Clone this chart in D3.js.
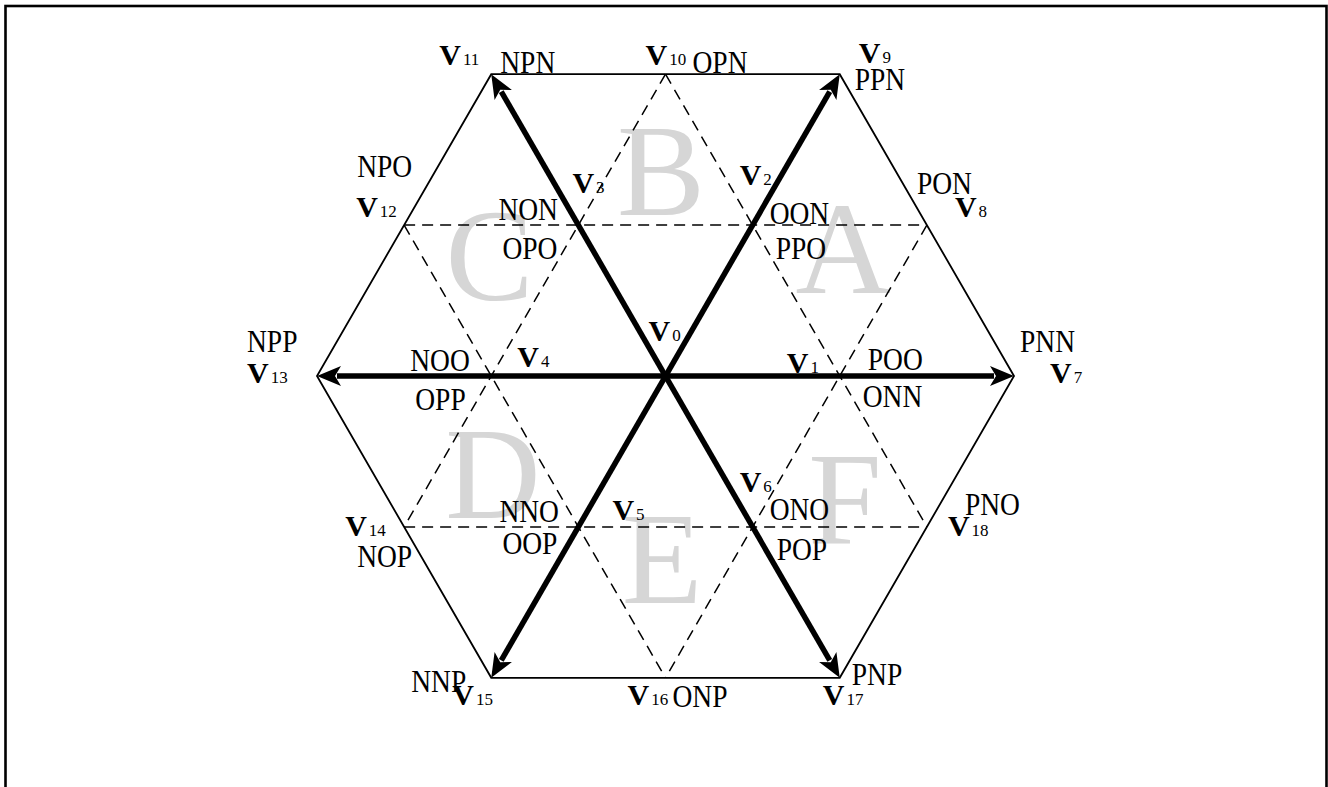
<!DOCTYPE html>
<html>
<head>
<meta charset="utf-8">
<script src="https://cdn.jsdelivr.net/npm/d3@7"></script>
<style>
  html, body { margin: 0; padding: 0; background: #fff; }
  svg { display: block; }
  text { font-family: "Liberation Serif", "DejaVu Serif", serif; }
</style>
</head>
<body>
<svg id="chart" width="1328" height="787"></svg>
<script>
// ---------- DATA ----------
const S3 = Math.sqrt(3) / 2;
// vector names and alpha-beta coordinates (outer vertex magnitude = 2)
const vectorIds = [0,1,2,3,4,5,6,7,8,9,10,11,12,13,14,15,16,17,18];
const vectorAlpha = [0, 1, 0.5, -0.5, -1, -0.5, 0.5, 2, 1.5, 1, 0, -1, -1.5, -2, -1.5, -1, 0, 1, 1.5];
const vectorBeta  = [0, 0, S3, S3, 0, -S3, -S3, 0, S3, 2*S3, 2*S3, 2*S3, S3, 0, -S3, -2*S3, -2*S3, -2*S3, -S3];
// switching states for each vector (upper label, lower label)
const switchStates = [
  [], ["POO","ONN"], ["OON","PPO"], ["NON","OPO"], ["NOO","OPP"], ["NNO","OOP"], ["ONO","POP"],
  ["PNN"], ["PON"], ["PPN"], ["OPN"], ["NPN"], ["NPO"], ["NPP"], ["NOP"], ["NNP"], ["ONP"], ["PNP"], ["PNO"]
];
const outerHexagon = [7, 9, 11, 13, 15, 17];          // outer solid hexagon vertices
const mainVectors = [7, 9, 11, 13, 15, 17];           // bold arrows from V0
const dashedLines = [[10,14],[10,18],[12,16],[8,16],[12,8],[14,18]];
const sectorNames = ["A","B","C","D","E","F"];

// ---------- LAYOUT (label offsets in px) ----------
const vLabelOffset = [
  [-17,-35],[-53,-3],[-13,-40],[-6,-32],[26,-9],[34,-7],[-13,-35],
  [36,7],[28,-8],[19,-11],[-20,-9],[-52,-9],[-48,-8],[-70,7],[-59,9],[-39,27],[-38,27],[-17,27],[21,9]
];
const stateOffset = [
  [], [[28,-6],[23,31]], [[17,-1],[23,34]], [[-80,-5],[-76,34]], [[-81,-5],[-76,34]],
  [[-79,-5],[-76,27]], [[17,-7],[24,33]],
  [[6,-24]], [[-10,-31]], [[15,16]], [[27,-1]], [[9,-1]], [[-47,-48]], [[-70,-24]],
  [[-47,40]], [[-80,14]], [[7,29]], [[12,7]], [[38,-12]]
];
// sector letter anchor (alpha, beta) of text baseline centre
const sectorPos = [[1.02,0.476],[-0.026,0.924],[-1.01,0.436],[-0.99,-0.815],[-0.02,-1.30],[1.03,-0.959]];

// ---------- DRAW ----------
const svg = d3.select("#chart");
const cx = 665.5, cy = 376, unit = 174.25;
const x = d3.scaleLinear().domain([-2, 2]).range([cx - 2*unit, cx + 2*unit]);
const y = d3.scaleLinear().domain([-2, 2]).range([cy + 2*unit, cy - 2*unit]);
const P = i => [x(vectorAlpha[i]), y(vectorBeta[i])];

// frame
svg.append("rect").attr("x", 5.5).attr("y", 6).attr("width", 1321).attr("height", 820)
  .attr("fill", "none").attr("stroke", "#000").attr("stroke-width", 2.6);

// sector letters
svg.append("g").selectAll("text").data(sectorNames).join("text")
  .attr("x", (d,i) => x(sectorPos[i][0]))
  .attr("y", (d,i) => y(sectorPos[i][1]))
  .attr("text-anchor", "middle")
  .attr("font-size", 132)
  .attr("fill", "#d6d6d6")
  .text(d => d);

// dashed lines
svg.append("g").selectAll("line").data(dashedLines).join("line")
  .attr("x1", d => P(d[0])[0]).attr("y1", d => P(d[0])[1])
  .attr("x2", d => P(d[1])[0]).attr("y2", d => P(d[1])[1])
  .attr("stroke", "#000").attr("stroke-width", 1.5).attr("stroke-dasharray", "11,7");

// outer hexagon
svg.append("path")
  .attr("d", d3.line()(outerHexagon.map(P)) + "Z")
  .attr("fill", "none").attr("stroke", "#000").attr("stroke-width", 1.8);

// arrows
const headLen = 24, headHalf = 10;
const ag = svg.append("g");
mainVectors.forEach(i => {
  const [x0, y0] = P(0), [x1, y1] = P(i);
  const dx = x1 - x0, dy = y1 - y0, L = Math.hypot(dx, dy);
  const ux = dx / L, uy = dy / L;
  const bx = x1 - ux * headLen, by = y1 - uy * headLen;
  ag.append("line").attr("x1", x0).attr("y1", y0)
    .attr("x2", x1 - ux * (headLen - 4)).attr("y2", y1 - uy * (headLen - 4))
    .attr("stroke", "#000").attr("stroke-width", 5.5);
  ag.append("path")
    .attr("d", d3.line()([[x1, y1], [bx - uy * headHalf, by + ux * headHalf],
      [x1 - ux * (headLen - 6), y1 - uy * (headLen - 6)], [bx + uy * headHalf, by - ux * headHalf]]) + "Z")
    .attr("fill", "#000");
});

// vector labels V_n
const vl = svg.append("g").selectAll("text").data(vectorIds).join("text")
  .attr("x", d => P(d)[0] + vLabelOffset[d][0])
  .attr("y", d => P(d)[1] + vLabelOffset[d][1])
  .attr("fill", "#000");
vl.append("tspan").attr("font-size", 30).attr("font-weight", "bold").text("V");
vl.append("tspan").attr("font-size", 17).attr("dx", 2).text(d => d);

// switching state labels
const st = [];
vectorIds.forEach(i => switchStates[i].forEach((s, k) => st.push({ s, i, k })));
svg.append("g").selectAll("text").data(st).join("text")
  .attr("transform", d => `translate(${P(d.i)[0] + stateOffset[d.i][d.k][0]},${P(d.i)[1] + stateOffset[d.i][d.k][1]}) scale(0.86,1)`)
  .attr("font-size", 32)
  .attr("fill", "#000")
  .text(d => d.s);
</script>
</body>
</html>
